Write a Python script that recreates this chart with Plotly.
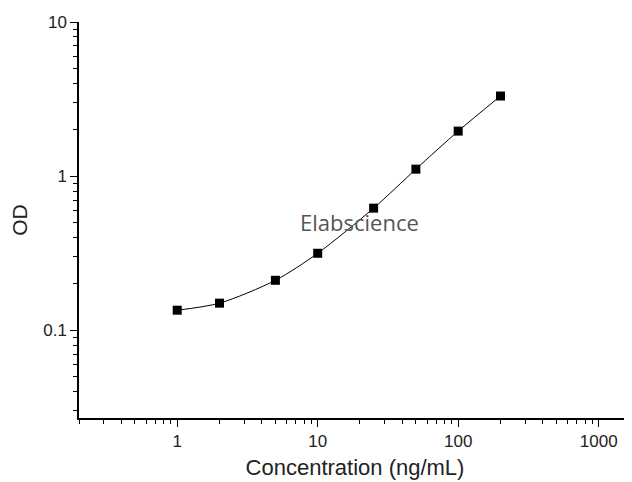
import plotly.graph_objects as go

conc = [1, 2, 5, 10, 25, 50, 100, 200]
od = [0.135, 0.150, 0.211, 0.316, 0.62, 1.11, 1.96, 3.31]

x_tick_vals = [1, 10, 100, 1000]
x_tick_text = ["1", "10", "100", "1000"]
y_tick_vals = [0.1, 1, 10]
y_tick_text = ["0.1", "1", "10"]

x_minor = [m * 10 ** e for e in range(-1, 4) for m in range(2, 10)]
y_minor = [m * 10 ** e for e in range(-2, 1) for m in range(2, 10)]

fig = go.Figure()
fig.add_trace(go.Scatter(
    x=conc, y=od, mode="lines+markers",
    line=dict(color="black", width=1, shape="spline", smoothing=0.8),
    marker=dict(symbol="square", size=9, color="black"),
    showlegend=False, hoverinfo="skip",
))

# watermark label (log-axis annotation coordinates are log10 values)
fig.add_annotation(
    x=1.30, y=-0.30, xref="x", yref="y",
    xanchor="center", yanchor="middle",
    text="Elabscience", showarrow=False,
    font=dict(family="Open Sans, DejaVu Sans, sans-serif", size=22, color="#555555"),
)

tick_font = dict(family="Liberation Sans, Arial, sans-serif", size=17, color="#222222")
x_title_font = dict(family="Liberation Sans, Arial, sans-serif", size=22, color="#222222")
y_title_font = dict(family="Liberation Sans, Arial, sans-serif", size=21, color="#222222")

# page body adds an 8px margin, so the figure is sized to fit the 632x482 window
fig.update_layout(
    width=624, height=474,
    margin=dict(l=71, r=1, t=14, b=64),
    paper_bgcolor="white", plot_bgcolor="white",
    xaxis=dict(
        type="log", range=[-0.699, 3.23],
        tickvals=x_tick_vals, ticktext=x_tick_text,
        ticks="outside", ticklen=7, tickwidth=1.2, tickcolor="black",
        showline=True, linecolor="black", linewidth=1.5,
        showgrid=False, zeroline=False,
        minor=dict(tickvals=x_minor, ticks="outside", ticklen=4, tickwidth=1, tickcolor="black", showgrid=False),
        title=dict(text="Concentration (ng/mL)", font=x_title_font, standoff=9),
        tickfont=tick_font,
    ),
    yaxis=dict(
        type="log", range=[-1.569, 1.0],
        tickvals=y_tick_vals, ticktext=y_tick_text,
        ticks="outside", ticklen=7, tickwidth=1.2, tickcolor="black",
        showline=True, linecolor="black", linewidth=1.5,
        showgrid=False, zeroline=False,
        minor=dict(tickvals=y_minor, ticks="outside", ticklen=4, tickwidth=1, tickcolor="black", showgrid=False),
        title=dict(text="OD", font=y_title_font, standoff=14),
        tickfont=tick_font,
    ),
)

fig.write_html("out.html")
